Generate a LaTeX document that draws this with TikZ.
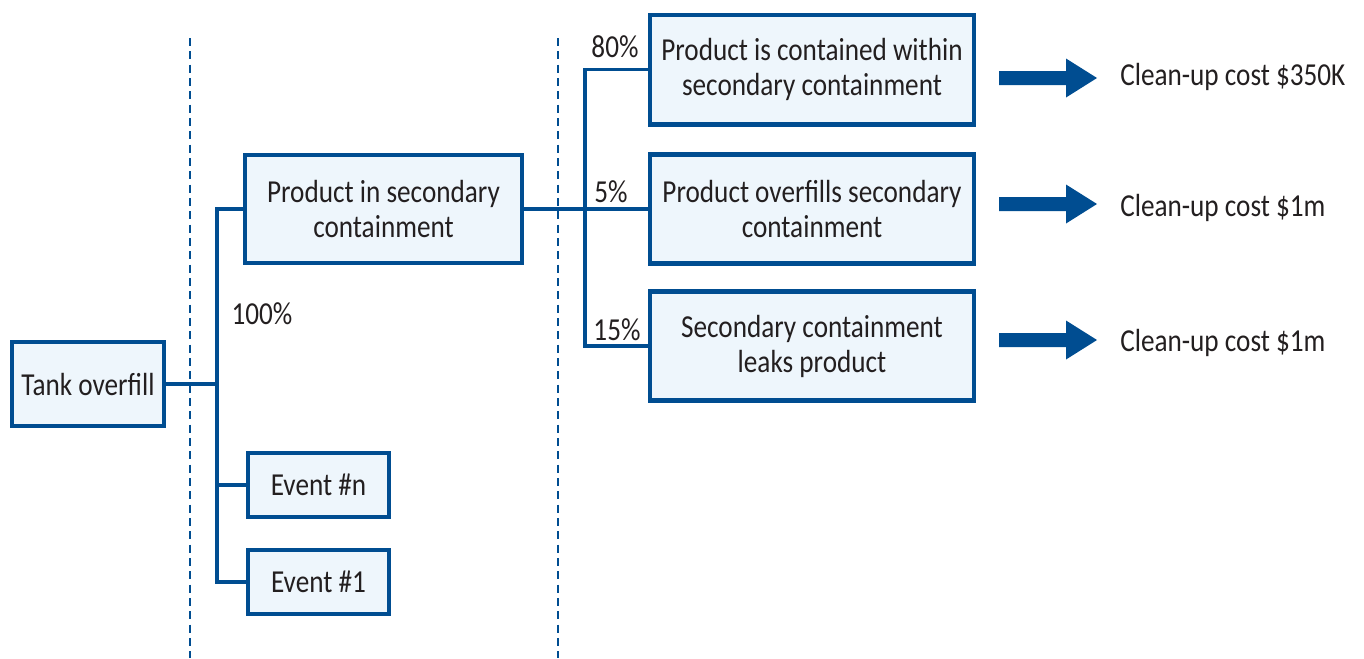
\documentclass[tikz,border=0pt]{standalone}
\usepackage{fontspec}
\setmainfont[FakeStretch=0.85]{Carlito}
\definecolor{boxblue}{HTML}{004D91}
\definecolor{boxfill}{HTML}{EEF6FC}
\definecolor{ink}{HTML}{231F20}
\tikzset{
  evbox/.style={draw=boxblue, line width=3.5pt, fill=boxfill, text=ink,
    align=center, inner sep=0pt},
  conn/.style={draw=boxblue, line width=2.3pt},
  divider/.style={draw=boxblue, line width=1.4pt, dash pattern=on 6pt off 4pt},
  pct/.style={text=ink, inner sep=0pt},
  cost/.style={text=ink, anchor=west, inner sep=0pt},
  bigarrow/.style={fill=boxblue},
}
\begin{document}
\begin{tikzpicture}[x=0.75pt, y=-0.75pt,
  font=\fontsize{24}{26.25}\selectfont]
\useasboundingbox (0,0) rectangle (1364,658);

% phase dividers
\draw[divider] (190,38) -- (190,658);
\draw[divider] (558,38) -- (558,658);

% event boxes
\node[evbox, minimum width=114pt, minimum height=63pt] (tank) at (88,384) {Tank overfill};
\node[evbox, minimum width=207.75pt, minimum height=81pt] (prod) at (383.5,209)
  {Product in secondary\\containment};
\node[evbox, minimum width=105.75pt, minimum height=48pt] (evn) at (318.5,485) {Event \#n};
\node[evbox, minimum width=105.75pt, minimum height=48pt] (ev1) at (318.5,582) {Event \#1};

\node[evbox, minimum width=243pt, minimum height=82pt] (r1) at (812,69.5)
  {Product is contained within\\secondary containment};
\node[evbox, minimum width=243pt, minimum height=82pt] (r2) at (812,209)
  {Product overfills secondary\\containment};
\node[evbox, minimum width=243pt, minimum height=82pt] (r3) at (812,346)
  {Secondary containment\\leaks product};

% branch points
\coordinate (trunk) at (217,0);
\coordinate (split) at (585,0);

% connectors
\draw[conn] (tank.east) -- (tank.east -| trunk);
\draw[conn] (prod.west) -- (prod.west -| trunk) |- (ev1.west);
\draw[conn] (evn.west) -- (evn.west -| trunk);
\draw[conn] (prod.east) -- (r2.west);
\draw[conn] (r1.west) -| (r3.west -| split) -- (r3.west);

% probabilities
\node[pct] (p100) at (262,314) {100\%};
\node[pct] (p80) at (615,47) {80\%};
\node[pct] (p5) at (611,192) {5\%};
\node[pct] (p15) at (617,330) {15\%};

% consequences
\node[cost] (c1) at (1120,77) {Clean-up cost \$350K};
\node[cost] (c2) at (1120,208) {Clean-up cost \$1m};
\node[cost] (c3) at (1120,343) {Clean-up cost \$1m};

\foreach \y in {78,204,340}{
  \fill[bigarrow] (999,\y-7) -- (1066,\y-7) -- (1066,\y-19.5) -- (1097,\y)
    -- (1066,\y+19.5) -- (1066,\y+7) -- (999,\y+7) -- cycle;
}
\end{tikzpicture}
\end{document}
